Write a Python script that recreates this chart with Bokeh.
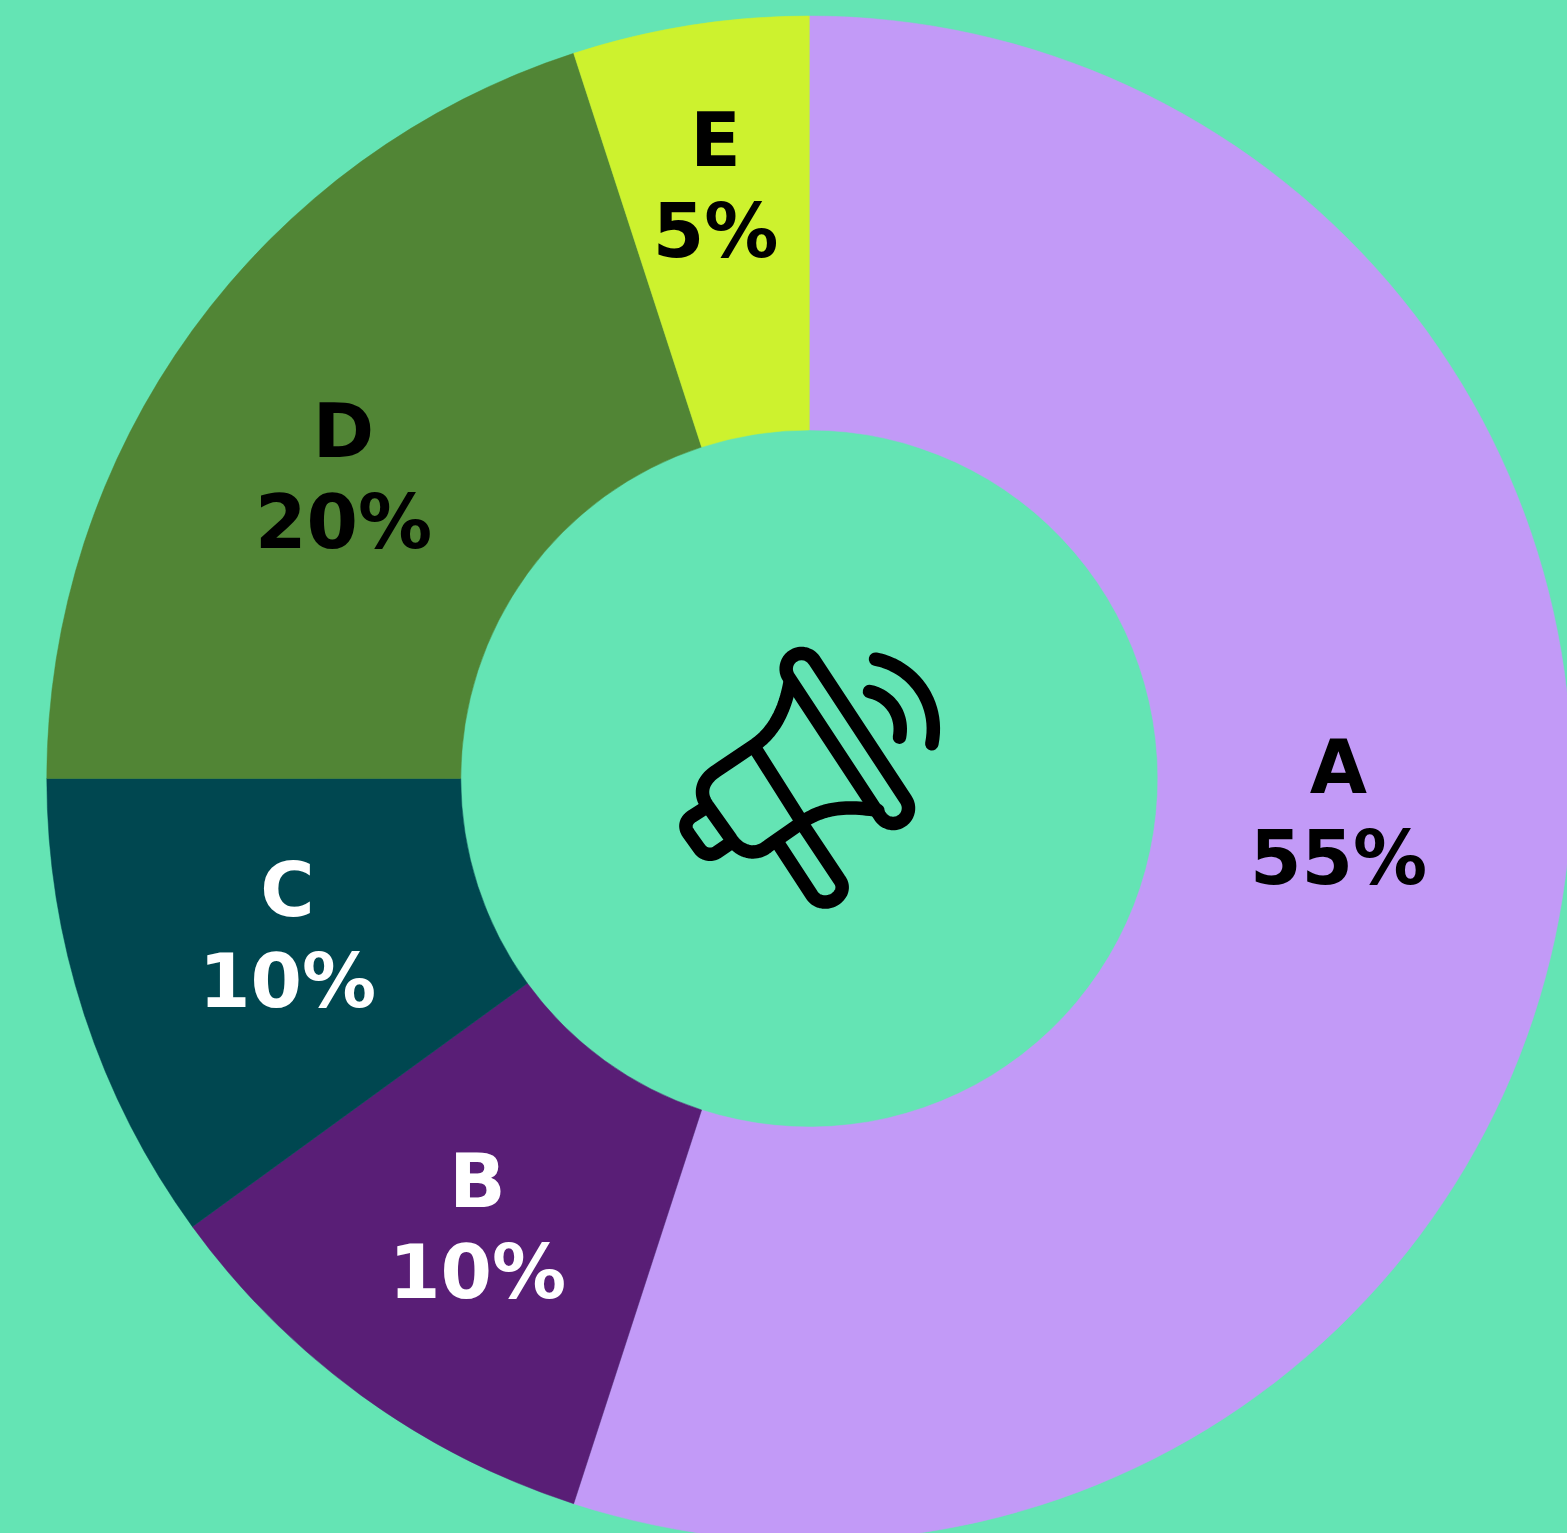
import math
from bokeh.plotting import figure
from bokeh.models import Range1d, ColumnDataSource
from bokeh.embed import file_html
from bokeh.resources import INLINE
from bokeh.core.properties import value

# --- data -----------------------------------------------------------
categories = ["A", "B", "C", "D", "E"]
shares = [55, 10, 10, 20, 5]
colors = ["#C29AF7", "#591E76", "#004750", "#518535", "#CDF22E"]
label_colors = ["#000000", "#FFFFFF", "#FFFFFF", "#000000", "#000000"]

# --- layout (pixels from the top-left of the page) ------------------
W, H = 1567, 1533
BG = "#64E4B4"
CX, CY = 808.8, 778.0
R_OUT, R_IN = 762.5, 348.5
label_x = [1338, 477, 287, 343, 715]
label_base_y = [766, 1180, 889, 430, 139]
LINE_GAP = 91
FONT = "DejaVu Sans"
FONT_PX = "74px"

p = figure(width=W, height=H, x_range=Range1d(0, W), y_range=Range1d(0, H),
           output_backend="svg", toolbar_location=None, min_border=0,
           background_fill_color=BG, border_fill_color=BG, outline_line_color=None)
p.axis.visible = False
p.grid.visible = False

total = sum(shares)
starts, ends, c = [], [], 0
for s in shares:
    starts.append(math.pi / 2 - 2 * math.pi * c / total)
    c += s
    ends.append(math.pi / 2 - 2 * math.pi * c / total)

src = ColumnDataSource(dict(x=[CX] * 5, y=[H - CY] * 5, s=starts, e=ends, color=colors))
p.annular_wedge(x="x", y="y", inner_radius=R_IN, outer_radius=R_OUT, start_angle="s", end_angle="e",
                direction="clock", fill_color="color", line_color="color", line_width=0.5, source=src)

lab = ColumnDataSource(dict(
    x=label_x + label_x,
    y=[H - b for b in label_base_y] + [H - b - LINE_GAP for b in label_base_y],
    t=categories + [f"{s}%" for s in shares],
    color=label_colors + label_colors))
p.text(x="x", y="y", text="t", text_color="color", text_font=value(FONT), text_font_style="bold",
       text_font_size=FONT_PX, text_align="center", text_baseline="alphabetic", source=lab)

# --- megaphone icon: stroke centre-lines in crop coordinates --------
def Z(pt):
    return (670 + pt[0] / 3, 640 + pt[1] / 3)

def bez(p0, p1, p2, p3, n=24):
    out = []
    for i in range(n + 1):
        t = i / n
        a, b, d, e = (1-t)**3, 3*(1-t)**2*t, 3*(1-t)*t*t, t**3
        out.append((a*p0[0]+b*p1[0]+d*p2[0]+e*p3[0], a*p0[1]+b*p1[1]+d*p2[1]+e*p3[1]))
    return out

def capsule(a, b, r, n=24):
    ang = math.atan2(b[1]-a[1], b[0]-a[0])
    pts = []
    for i in range(n + 1):
        th = ang + math.pi/2 + math.pi * i / n
        pts.append((a[0] + r*math.cos(th), a[1] + r*math.sin(th)))
    for i in range(n + 1):
        th = ang - math.pi/2 + math.pi * i / n
        pts.append((b[0] + r*math.cos(th), b[1] + r*math.sin(th)))
    pts.append(pts[0])
    return pts

paths = [
    capsule((393, 85), (668, 503), 46),
    # handle
    [(327, 615), (425, 765)] + bez((425, 765), (445, 795), (495, 790), (512, 755))[1:] + bez((512, 755), (520, 735), (510, 722), (505, 715))[1:] + [(405, 565)],
    # horn upper curve + body top
    bez((358, 128), (345, 200), (315, 270), (255, 312)) + [(135, 393)] + bez((135, 393), (92, 422), (85, 462), (112, 497))[1:]
    + [(178, 590)] + bez((178, 590), (205, 635), (255, 650), (295, 615))[1:] + [(395, 545)]
    + bez((395, 545), (460, 500), (530, 495), (622, 510))[1:],
    # divider
    [(253, 322), (388, 535)],
    # rear cap
    [(100, 505), (65, 527)] + bez((65, 527), (45, 540), (40, 560), (55, 580))[1:] + [(85, 622)] + bez((85, 622), (100, 645), (125, 645), (140, 635))[1:] + [(172, 613)],
    # sound waves
    bez((615, 56), (720, 75), (810, 180), (784, 310)),
    bez((597, 153), (655, 165), (700, 220), (687, 290)),
]
xs, ys = [], []
for path in paths:
    pts = [Z(q) for q in path]
    xs.append([q[0] for q in pts])
    ys.append([H - q[1] for q in pts])
p.multi_line(xs, ys, line_color="#000000", line_width=13.5, line_cap="round", line_join="round")

html = file_html(p, INLINE)
html = html.replace("</head>", f"<style>html,body{{margin:0;padding:0;overflow:hidden;background:{BG}}}</style></head>", 1)
open("out.html", "w").write(html)
